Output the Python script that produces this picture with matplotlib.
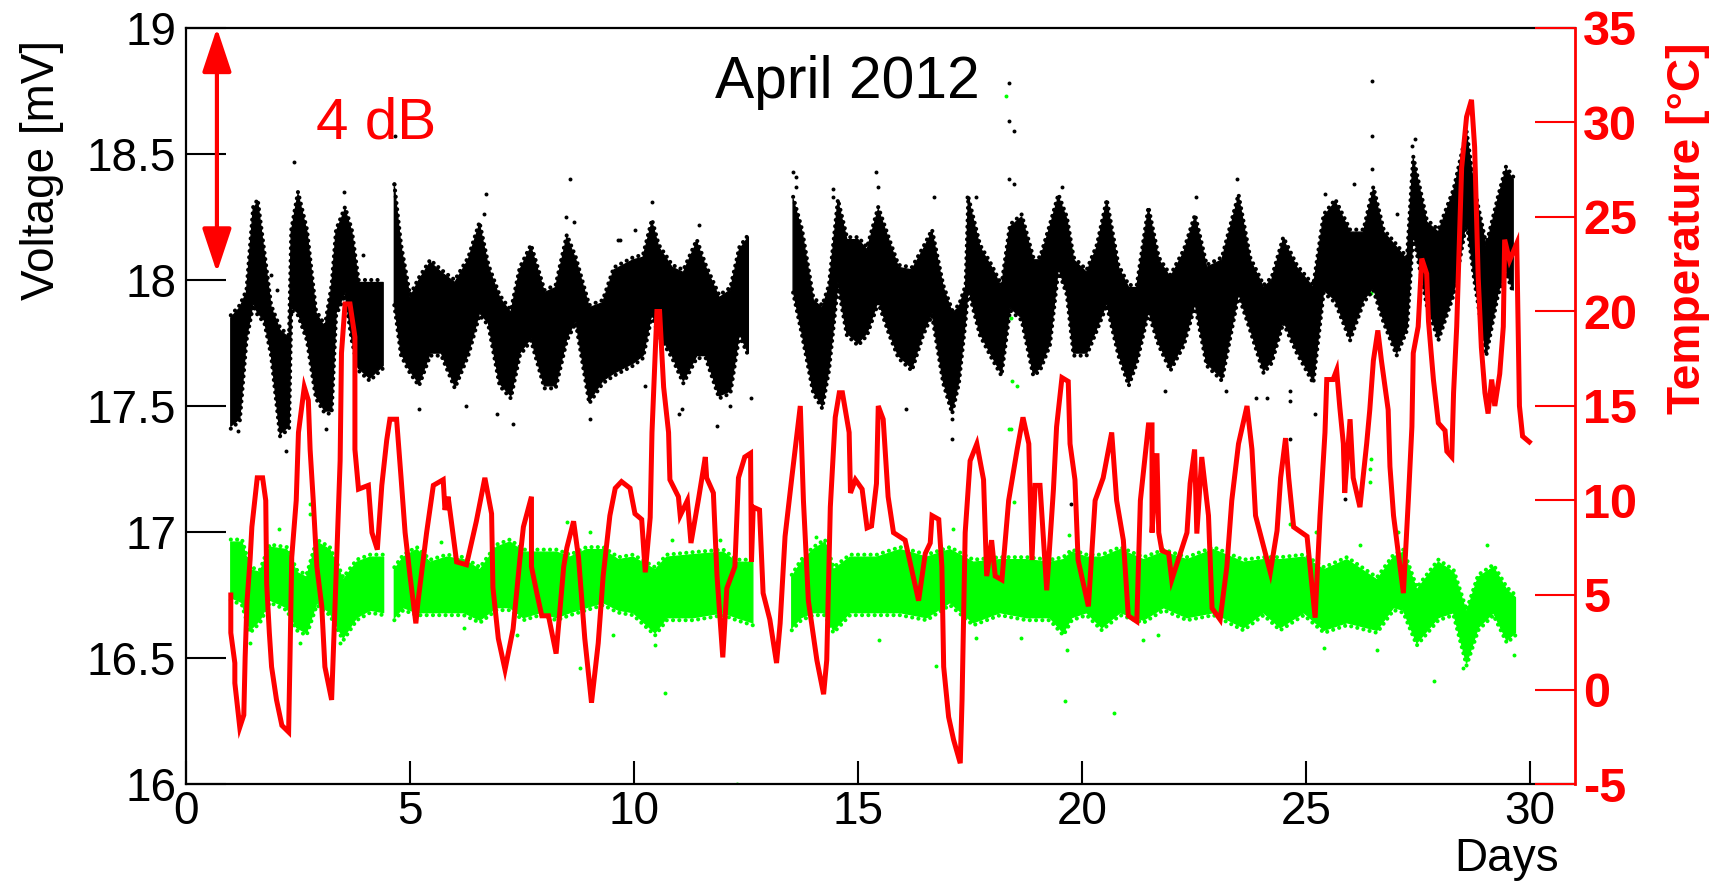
import numpy as np
import matplotlib
matplotlib.use("Agg")
import matplotlib.pyplot as plt

plt.rcParams['font.family'] = ['Liberation Sans', 'DejaVu Sans']
nan = float('nan')

temp_days = [1.0,1.0,1.09,1.09,1.2,1.29,1.32,1.36,1.43,1.47,1.59,1.71,1.78,1.8,1.86,1.91,2.02,2.14,2.29,2.32,2.36,2.46,2.51,2.64,2.73,2.77,2.84,2.92,3.03,3.1,3.25,3.33,3.44,3.47,3.55,3.66,3.77,3.77,3.85,4.07,4.15,4.27,4.37,4.48,4.55,4.7,4.8,4.89,5.0,5.13,5.18,5.37,5.52,5.74,5.78,5.85,6.04,6.26,6.48,6.67,6.82,6.85,6.97,7.12,7.3,7.45,7.53,7.71,7.71,7.83,7.94,8.09,8.26,8.43,8.5,8.65,8.76,8.9,9.05,9.2,9.31,9.46,9.58,9.72,9.91,10.02,10.17,10.25,10.36,10.4,10.51,10.57,10.66,10.77,10.8,10.99,11.03,11.19,11.27,11.44,11.59,11.62,11.77,11.85,11.98,12.07,12.25,12.33,12.47,12.6,12.62,12.66,12.8,12.88,13.03,13.18,13.26,13.37,13.52,13.71,13.78,13.89,14.08,14.23,14.3,14.38,14.49,14.58,14.65,14.8,14.83,14.94,15.09,15.2,15.3,15.41,15.45,15.56,15.67,15.79,16.05,16.35,16.5,16.61,16.65,16.8,16.87,16.91,17.02,17.13,17.28,17.32,17.39,17.5,17.65,17.8,17.87,17.98,18.06,18.21,18.36,18.55,18.68,18.81,18.88,18.95,19.06,19.21,19.36,19.43,19.55,19.69,19.73,19.84,19.91,20.14,20.29,20.47,20.66,20.77,20.92,21.03,21.22,21.3,21.48,21.56,21.56,21.67,21.71,21.78,21.93,22.0,22.34,22.41,22.51,22.56,22.67,22.82,22.9,23.08,23.23,23.34,23.49,23.68,23.79,23.87,24.2,24.35,24.43,24.54,24.61,24.72,25.02,25.2,25.31,25.42,25.46,25.6,25.68,25.75,25.83,25.86,25.98,26.05,26.2,26.35,26.42,26.5,26.6,26.68,26.83,26.87,26.95,27.17,27.28,27.36,27.39,27.5,27.58,27.69,27.73,27.84,27.95,28.1,28.14,28.25,28.29,28.36,28.47,28.58,28.69,28.76,28.84,28.91,28.99,29.06,29.14,29.21,29.32,29.4,29.43,29.54,29.7,29.76,29.83,29.98]
temp_c = [5.0,3.0,1.4,0.34,-2.0,-1.35,1.7,4.6,6.85,8.6,11.2,11.2,10.0,5.6,3.0,1.2,-0.55,-1.9,-2.25,1.55,7.0,10.0,13.6,16.0,15.3,12.7,10.0,6.5,4.4,1.2,-0.55,4.7,12.1,17.8,20.4,20.4,18.65,12.7,10.6,10.8,8.3,7.4,10.8,13.2,14.3,14.3,11.2,8.3,6.0,3.5,4.7,8.3,10.8,11.1,9.5,10.2,6.75,6.6,8.9,11.2,9.3,5.4,2.7,1.05,3.2,6.85,8.6,10.2,6.5,5.1,3.9,3.9,1.9,6.5,7.5,8.9,7.0,2.7,-0.7,2.45,6.0,9.2,10.65,11.0,10.65,9.3,9.0,6.2,9.1,13.6,20.0,20.0,16.0,13.6,11.1,10.2,9.2,10.0,7.75,10.1,12.3,11.2,10.4,6.05,1.7,5.35,6.5,11.2,12.3,12.5,6.75,9.65,9.5,5.1,3.7,1.4,3.5,8.1,11.2,15.0,10.0,4.7,1.55,-0.25,1.55,9.65,14.4,15.7,15.7,13.6,10.4,11.1,10.6,8.55,8.65,10.9,15.0,14.3,10.2,8.3,7.9,4.7,7.2,7.75,9.2,9.0,6.5,1.2,-1.45,-2.65,-3.9,-0.55,8.3,12.1,13.0,11.1,6.0,7.9,6.0,5.8,10.0,12.7,14.4,13.0,6.85,10.8,10.8,5.25,10.6,13.9,16.5,16.3,13.0,11.1,6.85,4.4,10.0,11.2,13.6,10.0,7.9,3.9,3.6,10.0,14.0,14.0,8.3,12.5,8.3,7.35,7.2,5.8,8.3,10.9,12.7,8.25,12.3,9.2,4.3,3.7,6.5,10.0,13.0,15.0,12.7,9.2,6.2,8.4,11.2,13.3,11.2,8.6,8.1,3.8,9.2,13.6,16.4,16.4,16.9,14.95,13.0,10.4,14.3,11.2,9.65,13.0,14.8,17.4,19.0,17.4,14.8,11.8,9.2,5.1,10.0,13.9,17.8,19.2,22.8,22.0,19.5,16.4,14.1,13.7,12.6,12.3,15.7,19.2,27.6,30.3,31.2,28.7,21.8,18.1,15.7,14.6,16.4,15.0,16.7,19.2,23.8,22.7,23.6,15.0,13.4,13.1]

black_days = [1.0,1.2,1.35,1.5,1.6,1.75,1.9,2.1,2.3,2.35,2.5,2.7,2.9,3.1,3.25,3.35,3.55,3.7,3.85,4.1,4.4,4.5,4.65,4.8,5.0,5.2,5.45,5.7,6.0,6.3,6.55,6.75,7.0,7.25,7.45,7.7,8.0,8.25,8.5,8.7,9.0,9.3,9.55,9.98,10.2,10.4,10.55,10.85,11.1,11.4,11.6,11.9,12.15,12.35,12.55,13.0,13.55,13.75,14.0,14.2,14.35,14.55,14.75,15.0,15.2,15.45,15.7,15.9,16.2,16.45,16.65,16.9,17.1,17.25,17.4,17.46,17.72,17.98,18.2,18.39,18.65,18.91,19.06,19.28,19.47,19.66,19.81,20.1,20.33,20.55,20.81,21.04,21.22,21.48,21.71,21.97,22.27,22.52,22.78,23.12,23.49,23.75,24.05,24.23,24.49,24.79,25.16,25.39,25.65,25.98,26.28,26.5,26.73,27.02,27.25,27.39,27.69,27.95,28.29,28.58,28.76,29.02,29.28,29.46,29.62]
black_top = [17.85,17.89,17.95,18.28,18.31,18.1,17.89,17.8,17.77,18.19,18.34,18.19,17.87,17.81,17.97,18.19,18.28,18.19,17.99,17.99,17.99,nan,18.37,18.13,17.93,18.0,18.07,18.03,17.99,18.08,18.22,18.05,17.93,17.87,18.04,18.13,17.95,17.97,18.17,18.08,17.89,17.91,18.04,18.08,18.09,18.23,18.13,18.05,18.03,18.15,18.05,17.93,17.96,18.12,18.17,nan,18.32,18.19,17.92,17.89,17.97,18.31,18.16,18.16,18.12,18.28,18.15,18.05,18.04,18.12,18.19,17.97,17.87,17.89,17.97,18.32,18.13,18.05,17.97,18.21,18.25,18.08,18.08,18.21,18.33,18.24,18.08,18.03,18.13,18.31,18.05,17.97,17.97,18.28,18.08,18.01,18.11,18.25,18.05,18.08,18.33,18.08,17.97,18.0,18.16,18.05,17.97,18.25,18.31,18.19,18.19,18.36,18.19,18.13,18.08,18.48,18.23,18.19,18.35,18.58,18.35,18.13,18.32,18.44,18.4]
black_bot = [17.42,17.45,17.77,17.91,17.87,17.84,17.71,17.39,17.42,17.89,17.87,17.77,17.54,17.48,17.48,17.87,17.95,17.77,17.65,17.61,17.66,nan,17.91,17.71,17.64,17.59,17.71,17.71,17.58,17.71,17.87,17.83,17.59,17.54,17.71,17.77,17.58,17.58,17.77,17.84,17.52,17.6,17.63,17.67,17.7,17.87,17.79,17.7,17.6,17.7,17.7,17.54,17.56,17.79,17.71,nan,17.96,17.79,17.56,17.5,17.65,17.99,17.79,17.75,17.79,17.92,17.79,17.7,17.65,17.79,17.87,17.6,17.48,17.6,17.85,17.97,17.79,17.7,17.63,17.89,17.85,17.63,17.65,17.75,18.05,17.95,17.71,17.71,17.81,17.91,17.71,17.59,17.68,17.88,17.75,17.65,17.75,17.91,17.67,17.61,17.95,17.81,17.64,17.68,17.84,17.72,17.6,17.96,17.92,17.77,17.92,17.97,17.84,17.71,17.81,18.19,17.91,17.77,17.95,18.24,18.0,17.71,17.95,18.04,17.96]
black_stray_days = [2.4,4.66,4.65,3.53,6.69,8.56,6.64,5.2,6.26,6.93,9.02,7.29,2.23,1.17,3.12,1.9,2.03,8.47,8.65,9.65,3.95,10.4,10.01,9.69,10.25,11.86,11.0,11.08,12.14,12.6,11.46,13.54,13.62,13.62,15.4,15.45,14.44,14.44,16.69,17.43,17.63,17.09,17.09,16.06,18.37,18.37,18.47,18.37,18.47,26.47,26.47,26.47,19.55,23.46,22.54,25.42,26.06,27.42,27.36,25.2,24.64,24.64,24.64,21.85,23.2,23.88,24.12,27.02,19.75,25.86]
black_stray_v = [18.47,18.57,18.38,18.35,18.34,18.4,18.26,17.49,17.5,17.47,17.45,17.43,17.32,17.4,17.41,18.02,17.96,18.25,18.23,18.16,18.1,18.31,18.2,18.16,17.58,17.42,17.47,17.49,17.5,17.53,18.22,18.43,18.41,18.37,18.43,18.37,18.36,18.33,18.33,18.33,18.33,17.45,17.37,17.49,18.78,18.63,18.59,18.4,18.38,18.79,18.57,18.44,18.37,18.4,18.33,18.34,18.38,18.56,18.53,17.47,17.37,17.56,17.52,17.56,17.56,17.53,17.53,18.26,17.11,17.13]

green_days = [1.0,1.25,1.43,1.65,1.87,2.25,2.47,2.69,2.92,3.21,3.51,3.81,4.11,4.41,4.5,4.65,4.85,5.15,5.45,5.82,6.2,6.56,6.93,7.23,7.53,7.9,8.27,8.57,8.94,9.31,9.65,9.98,10.47,10.73,11.32,11.99,12.29,12.65,13.0,13.52,13.73,14.0,14.26,14.45,14.82,15.42,15.94,16.53,17.05,17.57,18.17,18.76,19.28,19.58,19.77,20.1,20.44,20.85,21.37,21.82,22.34,22.93,23.6,24.05,24.42,24.95,25.4,25.91,26.58,26.95,27.17,27.47,27.95,28.29,28.58,28.84,29.18,29.48,29.67]
green_top = [16.96,16.96,16.85,16.84,16.94,16.93,16.84,16.82,16.96,16.93,16.81,16.88,16.9,16.9,nan,16.85,16.9,16.93,16.88,16.9,16.89,16.85,16.94,16.96,16.92,16.92,16.92,16.9,16.93,16.93,16.89,16.9,16.85,16.9,16.91,16.92,16.88,16.88,nan,16.82,16.88,16.93,16.96,16.85,16.9,16.9,16.93,16.9,16.93,16.88,16.89,16.89,16.88,16.89,16.92,16.9,16.9,16.93,16.89,16.92,16.89,16.93,16.88,16.89,16.89,16.9,16.85,16.89,16.81,16.9,16.92,16.77,16.88,16.84,16.68,16.82,16.86,16.77,16.74]
green_bot = [16.74,16.72,16.61,16.65,16.73,16.7,16.62,16.6,16.72,16.68,16.58,16.66,16.69,16.68,nan,16.66,16.7,16.68,16.68,16.68,16.68,16.65,16.7,16.7,16.66,16.68,16.66,16.68,16.7,16.72,16.69,16.68,16.6,16.66,16.66,16.68,16.66,16.64,nan,16.62,16.66,16.68,16.68,16.61,16.68,16.68,16.68,16.66,16.72,16.64,16.68,16.66,16.66,16.6,16.66,16.68,16.62,16.68,16.65,16.7,16.66,16.68,16.62,16.68,16.62,16.68,16.61,16.64,16.61,16.7,16.69,16.56,16.66,16.68,16.48,16.62,16.68,16.57,16.6]
green_stray_days = [2.77,2.77,2.07,5.7,8.5,9.02,8.79,9.54,1.43,2.55,3.44,6.2,7.38,10.69,10.84,11.92,14.06,16.74,17.11,18.37,18.49,12.29,15.47,17.63,18.64,10.46,18.38,18.42,18.43,18.54,18.41,18.3,19.62,20.72,19.67,19.71,27.86,26.45,26.42,26.42,27.05,26.2,29.03,25.4,26.58,29.63,28.49,21.35,21.69,24.64,25.21,19.76,26.45]
green_stray_v = [17.11,17.07,17.01,16.96,17.04,17.0,16.46,16.59,16.56,16.56,16.56,16.62,16.59,16.36,16.97,16.97,16.98,16.47,17.01,17.41,17.12,16.0,16.57,16.58,16.58,16.55,17.93,17.85,17.6,17.58,17.41,18.73,16.33,16.28,16.53,16.99,16.41,17.29,17.25,17.2,17.0,16.95,16.95,16.54,16.53,16.51,16.46,16.57,16.59,17.03,17.0,18.12,17.95]

x_ticks = [0, 5, 10, 15, 20, 25, 30]
v_ticks = [16, 16.5, 17, 17.5, 18, 18.5, 19]
v_labels = ['16', '16.5', '17', '17.5', '18', '18.5', '19']
t_ticks = [-5, 0, 5, 10, 15, 20, 25, 30, 35]
t_labels = ['-5', '0', '5', '10', '15', '20', '25', '30', '35']

RED = '#ff0000'
GREEN = '#00ff00'
W, H = 1720, 885
fig = plt.figure(figsize=(W/100, H/100), dpi=100, facecolor='white')
ax = fig.add_axes([186/W, (H-784)/H, (1575-186)/W, (784-28)/H])
ax.set_xlim(0, 31)
ax.set_ylim(16, 19)
ax.patch.set_alpha(0)

def cloud(days, top, bot, sd, sv, color, z):
    """Band between the read envelopes; scalloped dotted edges soften its outline."""
    d = np.array(days); t = np.array(top); b = np.array(bot)
    ax.fill_between(d, b, t, facecolor=color, edgecolor=color, lw=1.0, zorder=z)
    ax.plot(d, t + 0.01, color=color, lw=3.0, ls=(0, (0.01, 1.5)), dash_capstyle='round', zorder=z)
    ax.plot(d, b - 0.01, color=color, lw=3.0, ls=(0, (0.01, 1.5)), dash_capstyle='round', zorder=z)
    ax.scatter(sd, sv, s=8, color=color, lw=0, zorder=z + 0.1)

cloud(green_days, green_top, green_bot, green_stray_days, green_stray_v, GREEN, 2)
cloud(black_days, black_top, black_bot, black_stray_days, black_stray_v, 'black', 3)

for s in ax.spines.values():
    s.set_linewidth(1.6)
ax.spines['right'].set_visible(False)
ax.set_xticks(x_ticks)
ax.set_yticks(v_ticks)
ax.set_yticklabels(v_labels)
ax.tick_params(axis='x', direction='in', length=16.5, width=1.5, labelsize=33, pad=4)
ax.tick_params(axis='y', direction='in', length=29, width=1.5, labelsize=33, pad=7)
fig.text(42/W, (H-170)/H, 'Voltage [mV]', fontsize=33, rotation=90, ha='center', va='center')
fig.text(1559/W, (H-859)/H, 'Days', fontsize=33, ha='right', va='center')
ax.text(14.75, 18.785, 'April 2012', fontsize=42.3, ha='center', va='center', zorder=8)
ax.text(4.24, 18.62, '4 dB', color=RED, fontsize=42, ha='center', va='center', zorder=8)
ax.annotate('', xy=(0.69, 19.0), xytext=(0.69, 18.03),
            arrowprops=dict(arrowstyle='<|-|>,head_length=27,head_width=9', mutation_scale=1,
                            color=RED, lw=3.0, shrinkA=0, shrinkB=0), zorder=8)

axr = ax.twinx()
axr.set_ylim(-5, 35)
axr.patch.set_alpha(0)
for n, s in axr.spines.items():
    s.set_visible(n == 'right')
axr.spines['right'].set_color(RED)
axr.spines['right'].set_linewidth(2.0)
axr.set_yticks(t_ticks)
axr.set_yticklabels(t_labels)
axr.tick_params(axis='y', direction='in', length=29, width=1.5, colors=RED, labelsize=35, pad=6)
for lb in axr.get_yticklabels():
    lb.set_fontweight('bold')
axr.plot(temp_days, temp_c, color=RED, lw=3.6, solid_joinstyle='miter', zorder=5)
fig.text(1688/W, (H-228)/H, 'Temperature [°C]', color=RED, fontsize=33.2, fontweight='bold',
         rotation=90, ha='center', va='center')

fig.savefig('out.png', dpi=100)
